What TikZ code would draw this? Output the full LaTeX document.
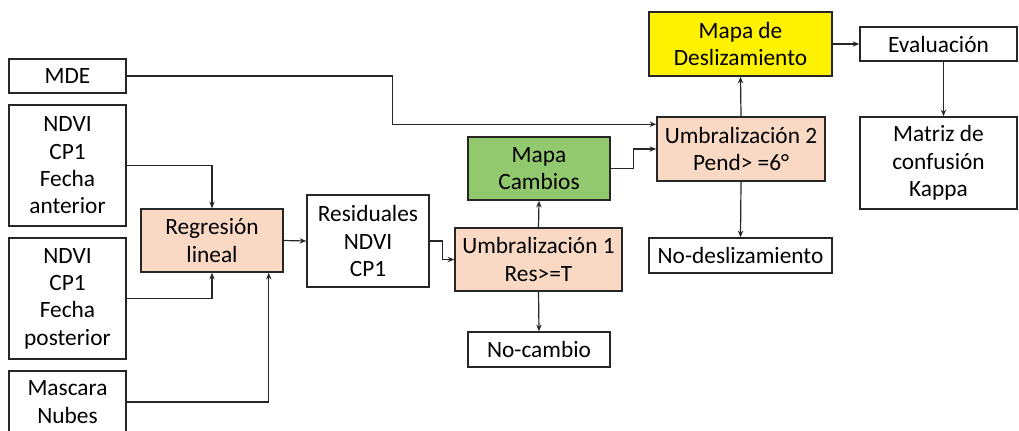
\documentclass[tikz,border=0pt]{standalone}
\usepackage{fontspec}
\setmainfont{Carlito}
\usepackage{tikz}
\usetikzlibrary{arrows.meta,calc}
\usepackage{xcolor}
\definecolor{peach}{RGB}{249,216,196}
\definecolor{mapgreen}{RGB}{146,200,110}
\tikzset{
  box/.style={draw=black!85, line width=1.1pt, align=center, inner sep=0pt, font=\fontsize{17.5}{20.5}\selectfont},
  proc/.style={box, fill=peach},
  flow/.style={draw=black!85, line width=0.9pt, -{Stealth[length=5pt,width=4pt]}}
}

\begin{document}
\begin{tikzpicture}[x=0.75pt, y=-0.75pt]
\useasboundingbox (0,0) rectangle (1019,430);
\node [box, minimum width=87.75pt, minimum height=25.5pt] (mde) at (67.5,76) {MDE};
\node [box, minimum width=87.75pt, minimum height=90.75pt] (ant) at (67.5,165.5) {NDVI\\CP1\\Fecha\\anterior};
\node [box, minimum width=87.75pt, minimum height=90.75pt] (post) at (67.5,298.5) {NDVI\\CP1\\Fecha\\posterior};
\node [box, minimum width=87.75pt, minimum height=46.5pt] (mas) at (67.5,402) {Mascara\\Nubes};
\node [proc, minimum width=106.5pt, minimum height=47.25pt] (reg) at (212,240.5) {Regresión\\lineal};
\node [box, minimum width=91.5pt, minimum height=69pt] (res) at (368,241) {Residuales\\NDVI\\CP1};
\node [proc, minimum width=125.25pt, minimum height=47.25pt] (umb1) at (538.5,259.5) {Umbralización 1\\Res>=T};
\node [box, minimum width=106.5pt, minimum height=26.25pt] (nocam) at (539,349.5) {No-cambio};
\node [box, fill=mapgreen, minimum width=106.5pt, minimum height=47.25pt] (cam) at (539,168.5) {Mapa\\Cambios};
\node [proc, minimum width=126pt, minimum height=48pt] (umb2) at (741,149) {Umbralización 2\\Pend> =6°};
\node [box, fill=yellow, minimum width=137.25pt, minimum height=48pt] (desl) at (740.5,44) {Mapa de\\Deslizamiento};
\node [box, minimum width=137.25pt, minimum height=26.25pt] (nodesl) at (740.5,255.5) {No-deslizamiento};
\node [box, minimum width=117.75pt, minimum height=25.5pt] (eval) at (938.5,44) {Evaluación};
\node [box, minimum width=117.75pt, minimum height=69pt] (mat) at (938.5,163) {Matriz de\\confusión\\Kappa};
\draw [flow] (ant.east) -| (reg.north);
\draw [flow] (post.east) -| (reg.south);
\draw [flow] (mas.east) -| ($(reg.south east)+(-15,0)$);
\draw [flow] (reg.east) -- (res.west);
\draw [flow] (res.east) -- ++(13,0) |- (umb1.west);
\draw [flow] (umb1.north) -- (cam.south);
\draw [flow] (umb1.south) -- (nocam.north);
\draw [flow] (cam.east) -- ++(23,0) |- (umb2.west);
\draw [flow] (mde.east) -- ++(266,0) |- ($(umb2.north west)+(0,8)$);
\draw [flow] (umb2.north) -- (desl.south);
\draw [flow] (umb2.south) -- (nodesl.north);
\draw [flow] (desl.east) -- (eval.west);
\draw [flow] ($(eval.south)+(5,0)$) -- ($(mat.north)+(5,0)$);
\end{tikzpicture}
\end{document}
